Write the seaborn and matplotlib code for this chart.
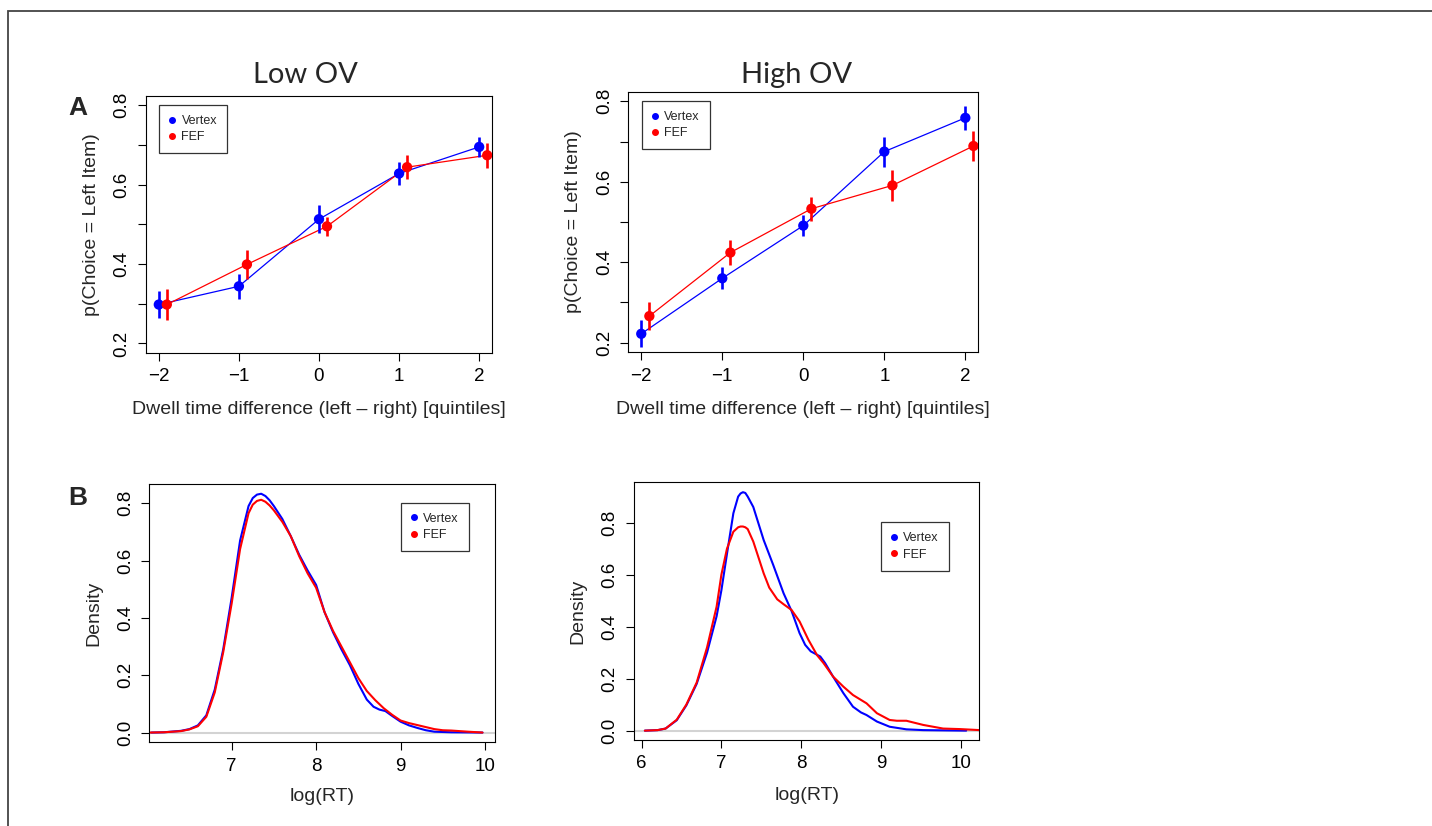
import matplotlib
matplotlib.use("Agg")
import matplotlib.pyplot as plt
from matplotlib.lines import Line2D
from matplotlib.patches import Rectangle
import pandas as pd
import seaborn as sns

# ---- data ----
quintiles = [-2, -1, 0, 1, 2]
groups = ["Vertex", "FEF"]
group_colors = {"Vertex": "#0000ff", "FEF": "#ff0000"}

low_vertex = [0.298, 0.344, 0.513, 0.628, 0.695]
low_vertex_err = [0.035, 0.031, 0.036, 0.028, 0.025]
low_fef = [0.298, 0.399, 0.495, 0.644, 0.674]
low_fef_err = [0.038, 0.036, 0.024, 0.030, 0.031]

high_vertex = [0.222, 0.360, 0.491, 0.675, 0.759]
high_vertex_err = [0.034, 0.027, 0.026, 0.037, 0.030]
high_fef = [0.266, 0.424, 0.533, 0.591, 0.689]
high_fef_err = [0.035, 0.031, 0.030, 0.038, 0.038]

# density of log(RT), low OV
low_rt_vertex_x = [6.05, 6.2, 6.4, 6.5, 6.6, 6.7, 6.8, 6.9, 7.0, 7.1, 7.2, 7.25, 7.3, 7.35, 7.4, 7.45,
                   7.5, 7.6, 7.7, 7.8, 7.9, 8.0, 8.1, 8.2, 8.3, 8.4, 8.5, 8.6, 8.68, 8.75, 8.82,
                   8.9, 9.0, 9.1, 9.2, 9.3, 9.4, 9.6, 9.8, 9.97]
low_rt_vertex_y = [0.0, 0.001, 0.006, 0.012, 0.025, 0.06, 0.15, 0.29, 0.47, 0.67, 0.79, 0.818, 0.83,
                   0.833, 0.825, 0.81, 0.79, 0.745, 0.685, 0.62, 0.565, 0.515, 0.42, 0.35, 0.29,
                   0.235, 0.17, 0.115, 0.09, 0.08, 0.075, 0.058, 0.038, 0.025, 0.016, 0.008,
                   0.003, 0.001, 0.0005, 0.0]
low_rt_fef_x = [6.03, 6.2, 6.4, 6.5, 6.6, 6.7, 6.8, 6.9, 7.0, 7.1, 7.2, 7.25, 7.3, 7.35, 7.4, 7.45,
                7.5, 7.6, 7.7, 7.8, 7.9, 8.0, 8.1, 8.2, 8.3, 8.4, 8.5, 8.6, 8.7, 8.8, 8.9, 9.0,
                9.1, 9.2, 9.3, 9.4, 9.5, 9.6, 9.7, 9.8, 9.97]
low_rt_fef_y = [0.0, 0.001, 0.005, 0.011, 0.022, 0.055, 0.14, 0.28, 0.45, 0.64, 0.765, 0.795, 0.808,
                0.812, 0.805, 0.792, 0.775, 0.735, 0.685, 0.615, 0.555, 0.505, 0.42, 0.355, 0.30,
                0.245, 0.19, 0.145, 0.113, 0.085, 0.062, 0.042, 0.033, 0.026, 0.019, 0.012,
                0.008, 0.007, 0.005, 0.003, 0.0]

# density of log(RT), high OV
high_rt_vertex_x = [6.04, 6.2, 6.3, 6.44, 6.56, 6.69, 6.82, 6.94, 7.0, 7.07, 7.15, 7.21, 7.24, 7.27,
                    7.3, 7.33, 7.4, 7.53, 7.65, 7.78, 7.88, 7.98, 8.05, 8.12, 8.24, 8.3, 8.4,
                    8.53, 8.65, 8.75, 8.82, 8.95, 9.11, 9.32, 9.53, 9.8, 10.07]
high_rt_vertex_y = [0.0, 0.002, 0.008, 0.04, 0.097, 0.18, 0.30, 0.44, 0.54, 0.68, 0.836, 0.9, 0.912,
                    0.917, 0.914, 0.9, 0.86, 0.733, 0.637, 0.528, 0.46, 0.375, 0.33, 0.305,
                    0.285, 0.26, 0.208, 0.144, 0.092, 0.07, 0.06, 0.035, 0.015, 0.005, 0.002,
                    0.001, 0.0]
high_rt_fef_x = [6.04, 6.2, 6.3, 6.44, 6.56, 6.69, 6.82, 6.94, 7.0, 7.07, 7.15, 7.21, 7.24, 7.27,
                 7.3, 7.33, 7.4, 7.53, 7.6, 7.7, 7.78, 7.88, 7.98, 8.09, 8.2, 8.28, 8.4, 8.53,
                 8.65, 8.82, 8.95, 9.11, 9.2, 9.32, 9.53, 9.78, 9.99, 10.24]
high_rt_fef_y = [0.0, 0.002, 0.008, 0.042, 0.10, 0.185, 0.32, 0.477, 0.60, 0.70, 0.765, 0.782,
                 0.785, 0.785, 0.782, 0.775, 0.727, 0.605, 0.55, 0.505, 0.486, 0.464, 0.42, 0.35,
                 0.29, 0.26, 0.208, 0.169, 0.137, 0.105, 0.067, 0.041, 0.038, 0.038, 0.022,
                 0.008, 0.006, 0.002]

# ---- figure setup ----
W, H = 1432, 826
sns.set_theme(style="ticks")
plt.rcParams["font.family"] = ["Liberation Sans", "DejaVu Sans"]
plt.rcParams["axes.linewidth"] = 0.8
plt.rcParams["xtick.major.size"] = 6
plt.rcParams["ytick.major.size"] = 6
plt.rcParams["xtick.major.width"] = 0.8
plt.rcParams["ytick.major.width"] = 0.8
plt.rcParams["xtick.color"] = "black"
plt.rcParams["ytick.color"] = "black"
plt.rcParams["axes.edgecolor"] = "black"

fig = plt.figure(figsize=(W / 100, H / 100), dpi=100)


def px_rect(l, t, r, b):
    return [l / W, 1 - b / H, (r - l) / W, (b - t) / H]


def add_legend(ax, x, y):
    handles = [Line2D([], [], ls="none", marker="o", ms=4, color=group_colors[g]) for g in groups]
    leg = ax.legend(handles, groups, loc="upper left", bbox_to_anchor=(x / W, 1 - y / H),
                    bbox_transform=fig.transFigure, frameon=True, fancybox=False,
                    edgecolor="#333333", framealpha=1, fontsize=9, borderpad=0.8,
                    handlelength=0.5, handletextpad=0.5, labelspacing=0.35, borderaxespad=0)
    leg.get_frame().set_linewidth(0.9)


def place_labels(ax, xlab_y, ylab_x):
    ax.xaxis.set_label_coords(0.5, xlab_y)
    ax.yaxis.set_label_coords(ylab_x, 0.5)


def choice_panel(ax, vertex, vertex_err, fef, fef_err):
    df = pd.DataFrame({
        "quintile": quintiles * 2,
        "p": vertex + fef,
        "err": vertex_err + fef_err,
        "group": ["Vertex"] * 5 + ["FEF"] * 5,
    })
    df["x"] = df["quintile"] + df["group"].map({"Vertex": 0.0, "FEF": 0.1})
    sns.lineplot(data=df, x="x", y="p", hue="group", palette=group_colors, lw=0.9,
                 legend=False, ax=ax, sort=True)
    for g in groups:
        d = df[df["group"] == g]
        ax.vlines(d["x"], d["p"] - d["err"], d["p"] + d["err"], color=group_colors[g], lw=1.9)
    sns.scatterplot(data=df, x="x", y="p", hue="group", palette=group_colors, s=55,
                    edgecolor="none", legend=False, ax=ax, zorder=3)
    ax.set_xlim(-2.16, 2.16)
    ax.set_ylim(0.176, 0.824)
    ax.set_xticks(quintiles)
    ax.set_yticks([0.2, 0.3, 0.4, 0.5, 0.6, 0.7, 0.8])
    ax.set_yticklabels(["0.2", "", "0.4", "", "0.6", "", "0.8"], rotation=90, va="center")
    ax.set_xlabel("Dwell time difference (left \u2013 right) [quintiles]", fontsize=14)
    ax.set_ylabel("p(Choice = Left Item)", fontsize=14)


def density_panel(ax, vx, vy, fx, fy, xlim, ylim, xticks):
    df = pd.DataFrame({
        "logrt": vx + fx,
        "density": vy + fy,
        "group": ["Vertex"] * len(vx) + ["FEF"] * len(fx),
    })
    ax.axhline(0, color="#d3d3d3", lw=1.5, zorder=1)
    sns.lineplot(data=df, x="logrt", y="density", hue="group", palette=group_colors, lw=1.5,
                 legend=False, ax=ax, sort=False, estimator=None)
    ax.set_xlim(*xlim)
    ax.set_ylim(*ylim)
    ax.set_xticks(xticks)
    ax.set_yticks([0.0, 0.2, 0.4, 0.6, 0.8])
    ax.set_yticklabels(["0.0", "0.2", "0.4", "0.6", "0.8"], rotation=90, va="center")
    ax.set_xlabel("log(RT)", fontsize=14)
    ax.set_ylabel("Density", fontsize=14)


ax1 = fig.add_axes(px_rect(146, 95.7, 492, 353))
choice_panel(ax1, low_vertex, low_vertex_err, low_fef, low_fef_err)
add_legend(ax1, 159, 105)
place_labels(ax1, -0.186, -0.133)

ax2 = fig.add_axes(px_rect(628.3, 91.7, 978.3, 352.3))
choice_panel(ax2, high_vertex, high_vertex_err, high_fef, high_fef_err)
add_legend(ax2, 641.7, 101)
place_labels(ax2, -0.187, -0.133)

ax3 = fig.add_axes(px_rect(149.3, 484, 495, 742.3))
density_panel(ax3, low_rt_vertex_x, low_rt_vertex_y, low_rt_fef_x, low_rt_fef_y,
              (6.025, 10.118), (-0.034, 0.867), [7, 8, 9, 10])
add_legend(ax3, 400.7, 502.7)
place_labels(ax3, -0.177, -0.135)

ax4 = fig.add_axes(px_rect(634, 482.3, 979.3, 740))
density_panel(ax4, high_rt_vertex_x, high_rt_vertex_y, high_rt_fef_x, high_rt_fef_y,
              (5.904, 10.234), (-0.036, 0.955), [6, 7, 8, 9, 10])
add_legend(ax4, 880.7, 522.3)
place_labels(ax4, -0.183, -0.137)

for ax in [ax1, ax2, ax3, ax4]:
    ax.tick_params(labelsize=13.5, pad=5)
    for s in ax.spines.values():
        s.set_visible(True)

# titles and panel letters
fig.text(305 / W, 1 - 83 / H, "Low OV", family=["Lato", "DejaVu Sans"], fontsize=21,
         ha="center", va="baseline")
fig.text(797 / W, 1 - 83 / H, "High OV", family=["Lato", "DejaVu Sans"], fontsize=21,
         ha="center", va="baseline")
fig.text(68 / W, 1 - 115 / H, "A", fontsize=19, fontweight="bold", va="baseline")
fig.text(68 / W, 1 - 505 / H, "B", fontsize=19, fontweight="bold", va="baseline")

# outer frame
fig.patches.append(Rectangle((8 / W, -0.05), 1.05, 1 - 11 / H + 0.05, transform=fig.transFigure,
                             fill=False, edgecolor="#444444", lw=1.3))

fig.savefig("out.png", dpi=100)
